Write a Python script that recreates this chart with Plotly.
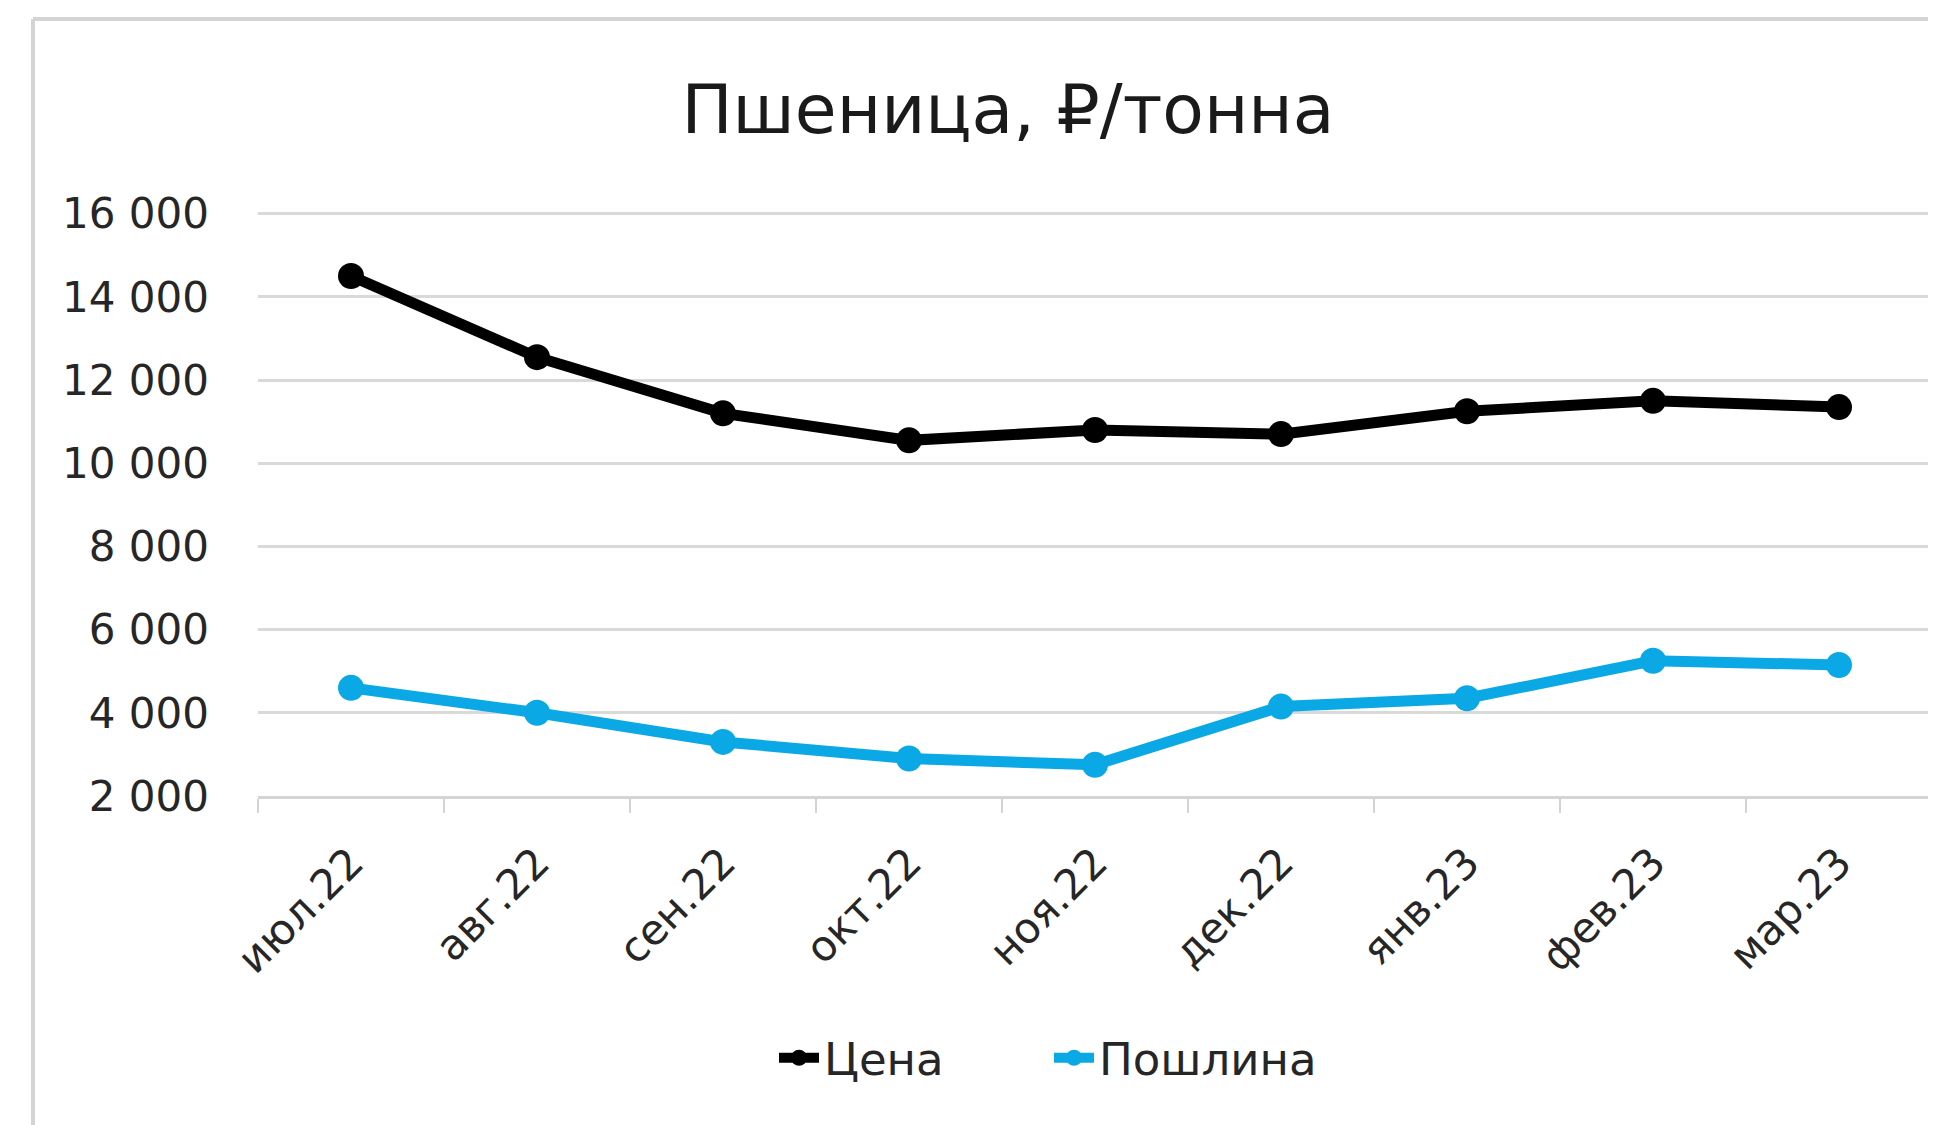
import plotly.graph_objects as go

months = ["июл.22", "авг.22", "сен.22", "окт.22", "ноя.22", "дек.22", "янв.23", "фев.23", "мар.23"]
price = [14500, 12550, 11200, 10550, 10800, 10700, 11250, 11500, 11350]
duty = [4600, 4000, 3300, 2900, 2750, 4150, 4350, 5250, 5150]
y_ticks = [2000, 4000, 6000, 8000, 10000, 12000, 14000, 16000]
y_tick_labels = ["2 000", "4 000", "6 000", "8 000", "10 000", "12 000", "14 000", "16 000"]

OFF = 8  # default page body margin
W, H = 1936 - OFF, 1125 - OFF
# target page-pixel plot box: x 258..1932, y 212..796
ML, MT = 258 - OFF, 212 - OFF
MR = W - (1932 - OFF)
MB = H - (796 - OFF)
pw = W - ML - MR
ph = H - MT - MB

FONT = "DejaVu Sans"
TXT = "#262626"
BLUE = "#0AA8E4"

fig = go.Figure()
fig.add_trace(go.Scatter(x=months, y=price, name="Цена", mode="lines+markers",
                         line=dict(color="#000000", width=11),
                         marker=dict(size=26, color="#000000")))
fig.add_trace(go.Scatter(x=months, y=duty, name="Пошлина", mode="lines+markers",
                         line=dict(color=BLUE, width=11),
                         marker=dict(size=26, color=BLUE)))

# outer chart frame (left and top edges visible)
fx = (33 - OFF - ML) / pw
fy = ((H - MB) - (19 - OFF)) / ph
fig.add_shape(type="line", xref="paper", yref="paper", x0=fx, x1=fx, y0=fy, y1=-1.0,
              line=dict(color="#D4D4D4", width=4), layer="below")
fig.add_shape(type="line", xref="paper", yref="paper", x0=fx, x1=1.2, y0=fy, y1=fy,
              line=dict(color="#D4D4D4", width=4), layer="below")

fig.update_layout(
    width=W, height=H,
    margin=dict(l=ML, r=MR, t=MT, b=MB, autoexpand=False),
    paper_bgcolor="white", plot_bgcolor="white",
    font=dict(family=FONT, color=TXT, size=42),
    title=dict(text="Пшеница, ₽/тонна", x=(1008 - OFF) / W, xanchor="center",
               y=1 - (109 - OFF) / H, yanchor="middle",
               font=dict(family=FONT, size=68, color="#1a1a1a")),
    showlegend=True,
    legend=dict(orientation="h", x=(774 - OFF - ML) / pw, xanchor="left",
                y=-((1058 - OFF) - (H - MB)) / ph, yanchor="middle",
                font=dict(family=FONT, size=45, color=TXT),
                itemwidth=40, entrywidth=220, entrywidthmode="pixels",
                bgcolor="rgba(0,0,0,0)"),
    xaxis=dict(type="category", showgrid=False, showline=True, linecolor="#D4D4D4",
               linewidth=3, ticks="outside", tickson="boundaries", ticklen=14,
               tickcolor="#D4D4D4", tickwidth=2, tickangle=-45, ticklabelstandoff=22,
               tickfont=dict(family=FONT, size=42, color=TXT), range=[-0.5, 8.5]),
    yaxis=dict(range=[2000, 16040], tickvals=y_ticks, ticktext=y_tick_labels,
               showgrid=True, gridcolor="#D9D9D9", gridwidth=3, zeroline=False,
               showline=False, ticks="", ticklabelstandoff=48,
               tickfont=dict(family=FONT, size=42, color=TXT)),
)

fig.write_html("out.html")
